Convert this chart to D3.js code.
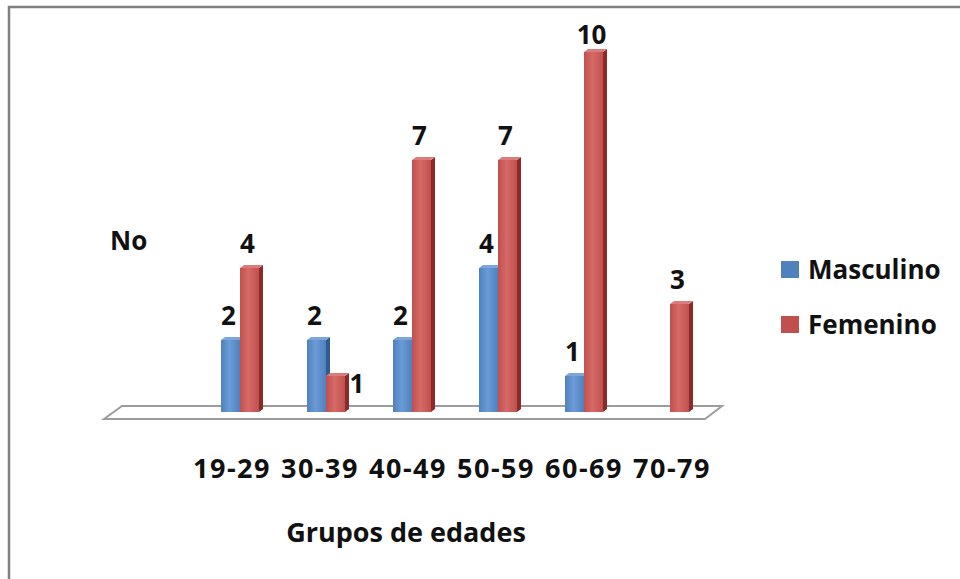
<!DOCTYPE html>
<html>
<head>
<meta charset="utf-8">
<script src="https://cdn.jsdelivr.net/npm/d3@7"></script>
<style>
  body { margin: 0; background: #fff; }
  text { font-family: "Open Sans", sans-serif; font-weight: bold; fill: #111; }
</style>
</head>
<body>
<script>
'use strict';

const groups = ["19-29", "30-39", "40-49", "50-59", "60-69", "70-79"];
const seriesNames = ["Masculino", "Femenino"];
const masculino = [2, 2, 2, 4, 1, 0];
const femenino = [4, 1, 7, 7, 10, 3];

(function() {
  const width = 960, height = 579;
  const colors = {
    Masculino: { front: "#4F81BD", light: "#6b9bd6", side: "#2f5b90", top: "#7aa6dc" },
    Femenino: { front: "#C0504D", light: "#d66a66", side: "#8a2b29", top: "#dc7c78" }
  };

  const svg = d3.select('body')
    .append('svg')
    .attr('width', width)
    .attr('height', height);

  // frame (only top and left edges visible)
  svg.append('path')
    .attr('d', 'M9,579 L9,7 L960,7')
    .attr('fill', 'none')
    .attr('stroke', '#808080')
    .attr('stroke-width', 2.5);

  const defs = svg.append('defs');
  seriesNames.forEach((s) => {
    let g = defs.append('linearGradient')
      .attr('id', 'grad-' + s)
      .attr('x1', '0%').attr('x2', '100%')
      .attr('y1', '0%').attr('y2', '0%');
    g.append('stop').attr('offset', '0%').attr('stop-color', colors[s].front);
    g.append('stop').attr('offset', '45%').attr('stop-color', colors[s].light);
    g.append('stop').attr('offset', '100%').attr('stop-color', colors[s].front);
  });

  const x0 = d3.scaleBand().domain(groups).range([197, 713]);
  const x1 = d3.scaleBand().domain(seriesNames).range([24, 62]);
  const y = d3.scaleLinear().domain([0, 10]).range([412, 52]);
  const xLabel = d3.scalePoint().domain(groups).range([232, 672]);

  const base = y(0);
  const depth = 4;

  // floor
  const fl = x0.range()[0] - 93, fr = x0.range()[1] - 8;
  svg.append('path')
    .attr('d', `M${fl},${base + 7} L${fl + 18},${base - 6} L${fr + 17},${base - 6} L${fr},${base + 7} Z`)
    .attr('fill', '#fff')
    .attr('stroke', '#9c9c9c')
    .attr('stroke-width', 2);

  const bars = [];
  groups.forEach((g, i) => {
    bars.push({ group: g, series: "Masculino", value: masculino[i], other: femenino[i] });
    bars.push({ group: g, series: "Femenino", value: femenino[i], other: masculino[i] });
  });
  const shown = bars.filter((d) => d.value > 0);

  const barG = svg.append('g');
  shown.forEach((d) => {
    let bx = x0(d.group) + x1(d.series);
    let bw = x1.bandwidth();
    let top = y(d.value);
    let c = colors[d.series];
    barG.append('path')
      .attr('d', `M${bx + bw},${top} L${bx + bw + depth},${top - 3} L${bx + bw + depth},${base - 3} L${bx + bw},${base} Z`)
      .attr('fill', c.side);
    barG.append('path')
      .attr('d', `M${bx},${top} L${bx + depth},${top - 3} L${bx + bw + depth},${top - 3} L${bx + bw},${top} Z`)
      .attr('fill', c.top);
    barG.append('rect')
      .attr('x', bx)
      .attr('y', top)
      .attr('width', bw)
      .attr('height', base - top)
      .attr('fill', 'url(#grad-' + d.series + ')');
  });

  // value labels; a short red bar beside a taller blue one gets its label on the right
  const besideRight = (d) => d.series === "Femenino" && d.value < d.other;
  svg.append('g').selectAll('text')
    .data(shown)
    .enter()
    .append('text')
      .attr('x', (d) => besideRight(d)
        ? x0(d.group) + x1(d.series) + x1.bandwidth() + 12
        : x0(d.group) + x1(d.series) + x1.bandwidth() / 2 - 2)
      .attr('y', (d) => besideRight(d) ? y(d.value) + 17 : y(d.value) - (d.value >= 10 ? 8 : 15))
      .attr('text-anchor', 'middle')
      .style('font-size', '26px')
      .text((d) => d.value);

  // category labels
  svg.append('g').selectAll('text')
    .data(groups)
    .enter()
    .append('text')
      .attr('x', (d) => xLabel(d))
      .attr('y', 478)
      .attr('text-anchor', 'middle')
      .style('font-size', '27px')
      .style('letter-spacing', '1.5px')
      .text((d) => d);

  svg.append('text')
    .attr('x', 406)
    .attr('y', 542)
    .attr('text-anchor', 'middle')
    .style('font-size', '27px')
    .text('Grupos de edades');

  svg.append('text')
    .attr('x', 110)
    .attr('y', 250)
    .style('font-size', '26px')
    .text('No');

  // legend
  const legend = svg.append('g');
  seriesNames.forEach((s, i) => {
    legend.append('rect')
      .attr('x', 781)
      .attr('y', 261 + i * 55)
      .attr('width', 18)
      .attr('height', 17)
      .attr('fill', colors[s].front);
    legend.append('text')
      .attr('x', 808)
      .attr('y', 279 + i * 55)
      .style('font-size', '26px')
      .text(s);
  });
})();
</script>
</body>
</html>
